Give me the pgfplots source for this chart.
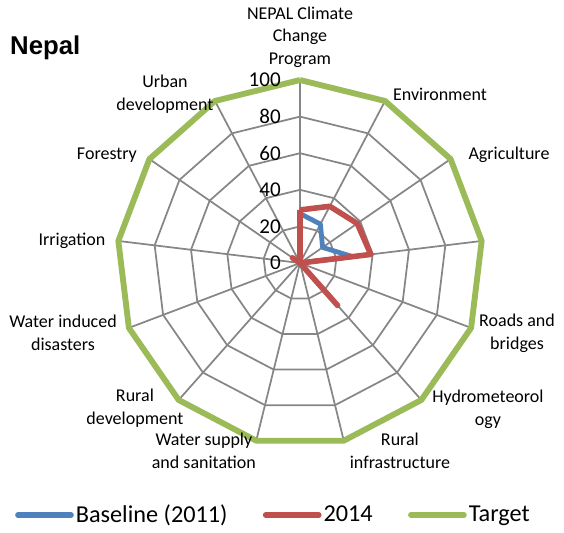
\documentclass[border=0pt]{standalone}
\usepackage{fontspec}
\setmainfont{Carlito}
\newfontfamily\arialfont{Liberation Sans}
\usepackage{pgfplots}
\pgfplotsset{compat=1.18}

\definecolor{cBase}{HTML}{4F81BD}
\definecolor{cNow}{HTML}{C0504D}
\definecolor{cTarget}{HTML}{9BBB59}
\definecolor{cGrid}{HTML}{868686}

\begin{document}
\begin{tikzpicture}
\begin{axis}[width=423pt, height=399pt, scale only axis, hide axis,
  xmin=-163.93, xmax=144.26, ymin=-146.99, ymax=143.72, clip=false,
  legend columns=3,
  legend style={at={(axis cs:-14.5,-137.7)}, anchor=center, draw=none, fill=none,
    font=\fontsize{18.2}{21}\selectfont, nodes={inner sep=1.5pt},
    /tikz/every even column/.append style={column sep=25pt}},
  legend image code/.code={\draw[#1, line width=4pt, line cap=round] (0pt,0pt) -- (40pt,0pt);}]

% grid rings (13 spokes, clockwise from the top)
\pgfplotsinvokeforeach{20,40,60,80,100}{
  \addplot[cGrid, line width=1.3pt, data cs=polar, forget plot] coordinates {
    (90,#1)(62.3077,#1)(34.6154,#1)(6.9231,#1)(-20.7692,#1)(-48.4615,#1)(-76.1538,#1)
    (-103.8462,#1)(-131.5385,#1)(-159.2308,#1)(-186.9231,#1)(-214.6154,#1)(-242.3077,#1)(90,#1)};
}
\pgfplotsinvokeforeach{62.3077,34.6154,6.9231,-20.7692,-48.4615,-76.1538,-103.8462,-131.5385,-159.2308,-186.9231,-214.6154,-242.3077}{
  \addplot[cGrid, line width=1.3pt, data cs=polar, forget plot] coordinates {(#1,0)(#1,100)};
}
\addplot[cGrid, line width=1.8pt, data cs=polar, forget plot] coordinates {(90,0)(90,100)};

% series
\addplot[cBase, line width=3.6pt, line join=round, data cs=polar] coordinates {
  (90,27)(62.3077,24)(34.6154,15)(6.9231,29)(-20.7692,0)(-48.4615,0)(-76.1538,0)
  (-103.8462,0)(-131.5385,0)(-159.2308,0)(-186.9231,0)(-214.6154,0)(-242.3077,0)(90,27)};
\addlegendentry{Baseline (2011)}
\addplot[cNow, line width=4.2pt, line join=round, data cs=polar] coordinates {
  (90,29)(62.3077,35)(34.6154,38)(6.9231,39)(-20.7692,0)(-48.4615,31)(-76.1538,0)
  (-103.8462,0)(-131.5385,0)(-159.2308,0)(-186.9231,0)(-214.6154,5)(-242.3077,0)(90,29)};
\addlegendentry{2014}
\addplot[cTarget, line width=4.4pt, line join=round, data cs=polar] coordinates {
  (90,100)(62.3077,100)(34.6154,100)(6.9231,100)(-20.7692,100)(-48.4615,100)(-76.1538,100)
  (-103.8462,100)(-131.5385,100)(-159.2308,100)(-186.9231,100)(-214.6154,100)(-242.3077,100)(90,100)};
\addlegendentry{Target}

% radial tick labels
\pgfplotsinvokeforeach{0,20,40,60,80,100}{
  \node[anchor=east, inner sep=0pt, font=\fontsize{15.8}{18}\selectfont] at (axis cs:-10.4,#1) {#1};
}

% category labels
\begin{scope}[every node/.style={align=center, inner sep=0pt, font=\fontsize{13.5}{17}\selectfont}]
\node at (axis cs:0,123.5) {NEPAL Climate\\Change\\Program};
\node at (axis cs:76.5,92.3) {Environment};
\node at (axis cs:114.2,59.0) {Agriculture};
\node at (axis cs:118.6,-38.3) {Roads and\\bridges};
\node at (axis cs:102.7,-79.8) {Hydrometeorol\\ogy};
\node at (axis cs:54.6,-102.7) {Rural\\infrastructure};
\node at (axis cs:-52.5,-102.7) {Water supply\\and sanitation};
\node at (axis cs:-90.2,-79.2) {Rural\\development};
\node at (axis cs:-129.5,-38.3) {Water induced\\disasters};
\node at (axis cs:-124.6,12.0) {Irrigation};
\node at (axis cs:-105.5,59.0) {Forestry};
\node at (axis cs:-73.8,92.3) {Urban\\development};
\end{scope}

\node[anchor=west, inner sep=0pt, font=\arialfont\bfseries\fontsize{19.3}{23}\selectfont] at (axis cs:-158.5,117.5) {Nepal};

\path (rel axis cs:0,0) rectangle (rel axis cs:1,1);
\end{axis}
\end{tikzpicture}
\end{document}
